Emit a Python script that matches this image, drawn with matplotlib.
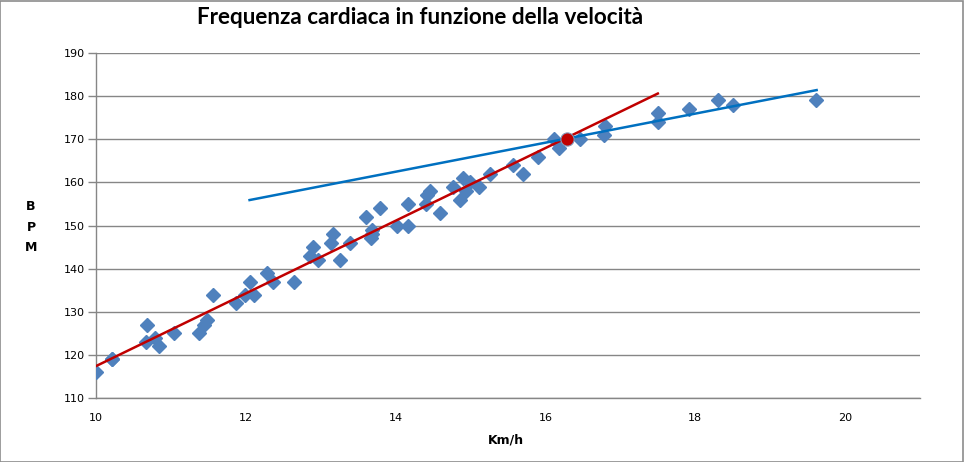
import matplotlib
matplotlib.use("Agg")
import matplotlib.pyplot as plt
from matplotlib.patches import Rectangle

# ---- data ----
speed_kmh = [10.0, 10.21, 10.22, 10.68, 10.67, 10.79, 10.84, 11.04, 11.38, 11.44,
             11.48, 11.56, 11.87, 11.99, 12.05, 12.11, 12.28, 12.36, 12.64, 12.86,
             12.9, 12.97, 13.14, 13.17, 13.26, 13.39, 13.6, 13.68, 13.69, 13.67,
             13.79, 14.02, 14.16, 14.16, 14.4, 14.42, 14.46, 14.59, 14.76, 14.86,
             14.9, 14.94, 14.99, 15.11, 15.26, 15.57, 15.7, 15.9, 16.12, 16.18,
             16.46, 16.78, 16.8, 17.5, 17.5, 17.92, 18.31, 18.51, 19.61]
bpm = [116, 119, 119, 127, 123, 124, 122, 125, 125, 127,
       128, 134, 132, 134, 137, 134, 139, 137, 137, 143,
       145, 142, 146, 148, 142, 146, 152, 149, 148, 147,
       154, 150, 150, 155, 155, 157, 158, 153, 159, 156,
       161, 158, 160, 159, 162, 164, 162, 166, 170, 168,
       170, 171, 173, 176, 174, 177, 179, 178, 179]

# trend lines (endpoints)
red_line_x = [10.0, 17.5]
red_line_y = [117.4, 180.6]
blue_line_x = [12.05, 19.62]
blue_line_y = [155.9, 181.4]

# deflection point
defl_x = [16.29]
defl_y = [170]

x_ticks = [10, 12, 14, 16, 18, 20]
y_ticks = [110, 120, 130, 140, 150, 160, 170, 180, 190]

title = "Frequenza cardiaca in funzione della velocità"
x_label = "Km/h"
y_label = "B\nP\nM"

# ---- figure ----
fig = plt.figure(figsize=(9.64, 4.62), dpi=100)
fig.patch.set_facecolor("white")
fig.add_artist(Rectangle((0.0005, 0.001), 0.998, 0.997, transform=fig.transFigure,
                         fill=False, edgecolor="#8c8c8c", linewidth=1.2))

ax = fig.add_axes([96/964, 1-398/462, (920-96)/964, (398-53)/462])
ax.set_xlim(10, 21)
ax.set_ylim(110, 190)

ax.set_yticks(y_ticks)
ax.set_xticks(x_ticks)
ax.yaxis.grid(True, color="#868686", linewidth=1.0)
ax.xaxis.grid(False)
ax.set_axisbelow(True)

for s in ["top", "right"]:
    ax.spines[s].set_visible(False)
for s in ["left", "bottom"]:
    ax.spines[s].set_color("#868686")
    ax.spines[s].set_linewidth(1.0)

ax.tick_params(axis="y", direction="out", length=6, width=1, color="#868686",
               labelsize=8, pad=2, labelcolor="#000000")
ax.tick_params(axis="x", length=0, labelsize=8, pad=11, labelcolor="#000000")

ax.plot(speed_kmh, bpm, linestyle="none", marker="D", markersize=7,
        color="#4F81BD", markeredgecolor="#4F81BD", zorder=3)
ax.plot(red_line_x, red_line_y, color="#C00000", linewidth=1.8, zorder=4)
ax.plot(blue_line_x, blue_line_y, color="#0070C0", linewidth=1.8, zorder=4)
ax.plot(defl_x, defl_y, linestyle="none", marker="o", markersize=9.5,
        color="#C00000", markeredgecolor="#8096b8", markeredgewidth=0.8, zorder=5)

fig.text(420/964, 1-18/462, title, ha="center", va="center", fontsize=16.2,
         fontweight="bold", family=["Lato", "DejaVu Sans"])
fig.text(506/964, 1-440/462, x_label, ha="center", va="center", fontsize=9,
         fontweight="bold")
fig.text(31/964, 1-227/462, y_label, ha="center", va="center", fontsize=9,
         fontweight="bold", linespacing=1.75)

fig.savefig("out.png", dpi=100)
